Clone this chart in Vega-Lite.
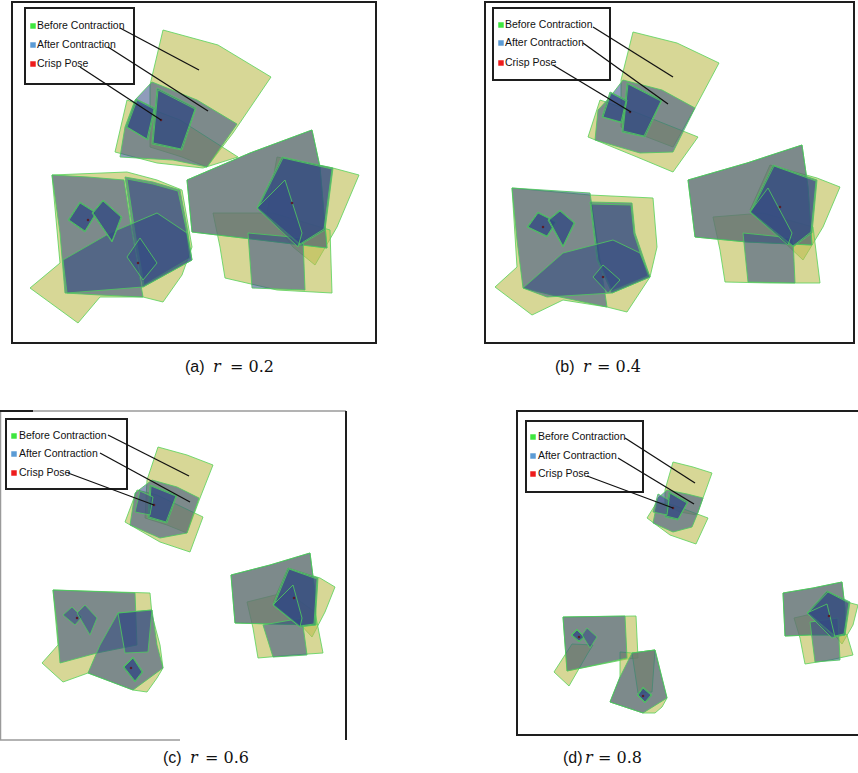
{
"$schema": "https://vega.github.io/schema/vega-lite/v6.json",
"width": 858, "height": 773, "padding": 0, "autosize": {"type": "none"},
"background": "white",
"config": {"view": {"stroke": null}},
"datasets": {
"before": [
{"poly":"aY1","i":0,"x":163,"y":30},{"poly":"aY1","i":1,"x":218,"y":45},{"poly":"aY1","i":2,"x":271,"y":77},{"poly":"aY1","i":3,"x":233,"y":133},{"poly":"aY1","i":4,"x":207,"y":167},{"poly":"aY1","i":5,"x":182,"y":157},{"poly":"aY1","i":6,"x":150,"y":147},{"poly":"aY1","i":7,"x":150,"y":85},
{"poly":"aY2","i":0,"x":127,"y":100},{"poly":"aY2","i":1,"x":180,"y":120},{"poly":"aY2","i":2,"x":238,"y":157},{"poly":"aY2","i":3,"x":203,"y":168},{"poly":"aY2","i":4,"x":157,"y":163},{"poly":"aY2","i":5,"x":115,"y":152},
{"poly":"aYL","i":0,"x":52,"y":175},{"poly":"aYL","i":1,"x":127,"y":172},{"poly":"aYL","i":2,"x":157,"y":180},{"poly":"aYL","i":3,"x":182,"y":190},{"poly":"aYL","i":4,"x":192,"y":247},{"poly":"aYL","i":5,"x":182,"y":275},{"poly":"aYL","i":6,"x":163,"y":302},{"poly":"aYL","i":7,"x":143,"y":297},{"poly":"aYL","i":8,"x":100,"y":297},{"poly":"aYL","i":9,"x":78,"y":323},{"poly":"aYL","i":10,"x":30,"y":288},{"poly":"aYL","i":11,"x":60,"y":263},
{"poly":"aYR1","i":0,"x":277,"y":157},{"poly":"aYR1","i":1,"x":333,"y":168},{"poly":"aYR1","i":2,"x":359,"y":175},{"poly":"aYR1","i":3,"x":337,"y":227},{"poly":"aYR1","i":4,"x":315,"y":265},{"poly":"aYR1","i":5,"x":293,"y":247},{"poly":"aYR1","i":6,"x":267,"y":213},
{"poly":"aYR2","i":0,"x":213,"y":213},{"poly":"aYR2","i":1,"x":273,"y":213},{"poly":"aYR2","i":2,"x":330,"y":230},{"poly":"aYR2","i":3,"x":332,"y":293},{"poly":"aYR2","i":4,"x":277,"y":290},{"poly":"aYR2","i":5,"x":225,"y":278},{"poly":"aYR2","i":6,"x":220,"y":247},
{"poly":"aYR3","i":0,"x":187,"y":180},{"poly":"aYR3","i":1,"x":250,"y":153},{"poly":"aYR3","i":2,"x":312,"y":130},{"poly":"aYR3","i":3,"x":320,"y":167},{"poly":"aYR3","i":4,"x":327,"y":248},{"poly":"aYR3","i":5,"x":260,"y":240},{"poly":"aYR3","i":6,"x":192,"y":232},
{"poly":"bY1","i":0,"x":633,"y":32},{"poly":"bY1","i":1,"x":677,"y":43},{"poly":"bY1","i":2,"x":719,"y":63},{"poly":"bY1","i":3,"x":695,"y":108},{"poly":"bY1","i":4,"x":673,"y":147},{"poly":"bY1","i":5,"x":647,"y":137},{"poly":"bY1","i":6,"x":621,"y":127},{"poly":"bY1","i":7,"x":621,"y":80},
{"poly":"bY2","i":0,"x":600,"y":100},{"poly":"bY2","i":1,"x":630,"y":110},{"poly":"bY2","i":2,"x":698,"y":137},{"poly":"bY2","i":3,"x":673,"y":172},{"poly":"bY2","i":4,"x":637,"y":157},{"poly":"bY2","i":5,"x":588,"y":137},
{"poly":"bYL","i":0,"x":512,"y":188},{"poly":"bYL","i":1,"x":590,"y":195},{"poly":"bYL","i":2,"x":632,"y":197},{"poly":"bYL","i":3,"x":653,"y":198},{"poly":"bYL","i":4,"x":657,"y":247},{"poly":"bYL","i":5,"x":650,"y":277},{"poly":"bYL","i":6,"x":627,"y":312},{"poly":"bYL","i":7,"x":607,"y":307},{"poly":"bYL","i":8,"x":563,"y":300},{"poly":"bYL","i":9,"x":532,"y":315},{"poly":"bYL","i":10,"x":495,"y":287},{"poly":"bYL","i":11,"x":517,"y":267},
{"poly":"bYR1","i":0,"x":770,"y":165},{"poly":"bYR1","i":1,"x":817,"y":178},{"poly":"bYR1","i":2,"x":840,"y":187},{"poly":"bYR1","i":3,"x":823,"y":227},{"poly":"bYR1","i":4,"x":803,"y":260},{"poly":"bYR1","i":5,"x":782,"y":240},{"poly":"bYR1","i":6,"x":750,"y":210},
{"poly":"bYR2","i":0,"x":713,"y":217},{"poly":"bYR2","i":1,"x":763,"y":213},{"poly":"bYR2","i":2,"x":813,"y":227},{"poly":"bYR2","i":3,"x":820,"y":283},{"poly":"bYR2","i":4,"x":770,"y":283},{"poly":"bYR2","i":5,"x":725,"y":282},{"poly":"bYR2","i":6,"x":720,"y":250},
{"poly":"bYR3","i":0,"x":688,"y":180},{"poly":"bYR3","i":1,"x":747,"y":163},{"poly":"bYR3","i":2,"x":802,"y":145},{"poly":"bYR3","i":3,"x":808,"y":187},{"poly":"bYR3","i":4,"x":812,"y":245},{"poly":"bYR3","i":5,"x":747,"y":242},{"poly":"bYR3","i":6,"x":695,"y":237},
{"poly":"cY1","i":0,"x":158,"y":447},{"poly":"cY1","i":1,"x":187,"y":455},{"poly":"cY1","i":2,"x":213,"y":465},{"poly":"cY1","i":3,"x":200,"y":498},{"poly":"cY1","i":4,"x":187,"y":533},{"poly":"cY1","i":5,"x":167,"y":525},{"poly":"cY1","i":6,"x":145,"y":518},{"poly":"cY1","i":7,"x":147,"y":480},
{"poly":"cY2","i":0,"x":137,"y":490},{"poly":"cY2","i":1,"x":157,"y":495},{"poly":"cY2","i":2,"x":203,"y":517},{"poly":"cY2","i":3,"x":190,"y":552},{"poly":"cY2","i":4,"x":160,"y":542},{"poly":"cY2","i":5,"x":125,"y":522},
{"poly":"cYL","i":0,"x":53,"y":590},{"poly":"cYL","i":1,"x":150,"y":593},{"poly":"cYL","i":2,"x":152,"y":615},{"poly":"cYL","i":3,"x":160,"y":645},{"poly":"cYL","i":4,"x":163,"y":668},{"poly":"cYL","i":5,"x":157,"y":678},{"poly":"cYL","i":6,"x":147,"y":692},{"poly":"cYL","i":7,"x":133,"y":690},{"poly":"cYL","i":8,"x":88,"y":673},{"poly":"cYL","i":9,"x":63,"y":682},{"poly":"cYL","i":10,"x":42,"y":663},{"poly":"cYL","i":11,"x":58,"y":645},
{"poly":"cYR1","i":0,"x":288,"y":568},{"poly":"cYR1","i":1,"x":320,"y":578},{"poly":"cYR1","i":2,"x":335,"y":587},{"poly":"cYR1","i":3,"x":325,"y":612},{"poly":"cYR1","i":4,"x":312,"y":637},{"poly":"cYR1","i":5,"x":298,"y":622},{"poly":"cYR1","i":6,"x":273,"y":602},
{"poly":"cYR2","i":0,"x":247,"y":602},{"poly":"cYR2","i":1,"x":287,"y":592},{"poly":"cYR2","i":2,"x":315,"y":612},{"poly":"cYR2","i":3,"x":323,"y":653},{"poly":"cYR2","i":4,"x":293,"y":655},{"poly":"cYR2","i":5,"x":258,"y":658},{"poly":"cYR2","i":6,"x":253,"y":628},
{"poly":"cYR3","i":0,"x":231,"y":575},{"poly":"cYR3","i":1,"x":270,"y":565},{"poly":"cYR3","i":2,"x":310,"y":553},{"poly":"cYR3","i":3,"x":315,"y":592},{"poly":"cYR3","i":4,"x":316,"y":625},{"poly":"cYR3","i":5,"x":273,"y":624},{"poly":"cYR3","i":6,"x":235,"y":623},
{"poly":"dY1","i":0,"x":673,"y":462},{"poly":"dY1","i":1,"x":693,"y":467},{"poly":"dY1","i":2,"x":712,"y":473},{"poly":"dY1","i":3,"x":703,"y":498},{"poly":"dY1","i":4,"x":697,"y":515},{"poly":"dY1","i":5,"x":680,"y":512},{"poly":"dY1","i":6,"x":665,"y":505},{"poly":"dY1","i":7,"x":665,"y":490},
{"poly":"dY2","i":0,"x":657,"y":502},{"poly":"dY2","i":1,"x":673,"y":505},{"poly":"dY2","i":2,"x":708,"y":518},{"poly":"dY2","i":3,"x":696,"y":544},{"poly":"dY2","i":4,"x":670,"y":535},{"poly":"dY2","i":5,"x":647,"y":518},
{"poly":"dYL1","i":0,"x":563,"y":617},{"poly":"dYL1","i":1,"x":636,"y":616},{"poly":"dYL1","i":2,"x":638,"y":658},{"poly":"dYL1","i":3,"x":627,"y":659},{"poly":"dYL1","i":4,"x":567,"y":671},
{"poly":"dYL2","i":0,"x":554,"y":672},{"poly":"dYL2","i":1,"x":572,"y":644},{"poly":"dYL2","i":2,"x":593,"y":645},{"poly":"dYL2","i":3,"x":588,"y":653},{"poly":"dYL2","i":4,"x":569,"y":686},
{"poly":"dYL3","i":0,"x":620,"y":652},{"poly":"dYL3","i":1,"x":632,"y":653},{"poly":"dYL3","i":2,"x":655,"y":650},{"poly":"dYL3","i":3,"x":667,"y":698},{"poly":"dYL3","i":4,"x":662,"y":707},{"poly":"dYL3","i":5,"x":655,"y":713},{"poly":"dYL3","i":6,"x":643,"y":713},{"poly":"dYL3","i":7,"x":610,"y":702},{"poly":"dYL3","i":8,"x":620,"y":677},
{"poly":"dYL4","i":0,"x":632,"y":653},{"poly":"dYL4","i":1,"x":655,"y":650},{"poly":"dYL4","i":2,"x":652,"y":692},{"poly":"dYL4","i":3,"x":638,"y":693},
{"poly":"dYR1","i":0,"x":827,"y":591},{"poly":"dYR1","i":1,"x":847,"y":602},{"poly":"dYR1","i":2,"x":858,"y":605},{"poly":"dYR1","i":3,"x":853,"y":625},{"poly":"dYR1","i":4,"x":842,"y":644},{"poly":"dYR1","i":5,"x":832,"y":632},{"poly":"dYR1","i":6,"x":810,"y":612},
{"poly":"dYR2","i":0,"x":794,"y":618},{"poly":"dYR2","i":1,"x":820,"y":612},{"poly":"dYR2","i":2,"x":847,"y":635},{"poly":"dYR2","i":3,"x":853,"y":655},{"poly":"dYR2","i":4,"x":830,"y":660},{"poly":"dYR2","i":5,"x":805,"y":664},{"poly":"dYR2","i":6,"x":800,"y":638},
{"poly":"dYR3","i":0,"x":783,"y":593},{"poly":"dYR3","i":1,"x":813,"y":588},{"poly":"dYR3","i":2,"x":842,"y":582},{"poly":"dYR3","i":3,"x":845,"y":608},{"poly":"dYR3","i":4,"x":845,"y":635},{"poly":"dYR3","i":5,"x":810,"y":635},{"poly":"dYR3","i":6,"x":785,"y":636}
],
"after": [
{"poly":"aG1","i":0,"x":152,"y":82},{"poly":"aG1","i":1,"x":197,"y":100},{"poly":"aG1","i":2,"x":237,"y":124},{"poly":"aG1","i":3,"x":207,"y":167},{"poly":"aG1","i":4,"x":173,"y":160},{"poly":"aG1","i":5,"x":120,"y":157},{"poly":"aG1","i":6,"x":125,"y":127},{"poly":"aG1","i":7,"x":135,"y":100},
{"poly":"aG2","i":0,"x":157,"y":88},{"poly":"aG2","i":1,"x":196,"y":108},{"poly":"aG2","i":2,"x":182,"y":150},{"poly":"aG2","i":3,"x":152,"y":144},
{"poly":"aG2b","i":0,"x":158,"y":90},{"poly":"aG2b","i":1,"x":195,"y":109},{"poly":"aG2b","i":2,"x":181,"y":149},{"poly":"aG2b","i":3,"x":153,"y":143},
{"poly":"aG3","i":0,"x":136,"y":99},{"poly":"aG3","i":1,"x":155,"y":108},{"poly":"aG3","i":2,"x":148,"y":140},{"poly":"aG3","i":3,"x":126,"y":127},
{"poly":"aG3b","i":0,"x":137,"y":100},{"poly":"aG3b","i":1,"x":154,"y":109},{"poly":"aG3b","i":2,"x":147,"y":139},{"poly":"aG3b","i":3,"x":127,"y":127},
{"poly":"aGL1","i":0,"x":52,"y":175},{"poly":"aGL1","i":1,"x":88,"y":177},{"poly":"aGL1","i":2,"x":124,"y":180},{"poly":"aGL1","i":3,"x":132,"y":233},{"poly":"aGL1","i":4,"x":143,"y":297},{"poly":"aGL1","i":5,"x":100,"y":295},{"poly":"aGL1","i":6,"x":65,"y":293},{"poly":"aGL1","i":7,"x":60,"y":233},
{"poly":"aGL2","i":0,"x":125,"y":177},{"poly":"aGL2","i":1,"x":153,"y":182},{"poly":"aGL2","i":2,"x":180,"y":190},{"poly":"aGL2","i":3,"x":187,"y":227},{"poly":"aGL2","i":4,"x":192,"y":260},{"poly":"aGL2","i":5,"x":143,"y":287},{"poly":"aGL2","i":6,"x":133,"y":233},
{"poly":"aGL2b","i":0,"x":127,"y":179},{"poly":"aGL2b","i":1,"x":153,"y":184},{"poly":"aGL2b","i":2,"x":178,"y":191},{"poly":"aGL2b","i":3,"x":186,"y":228},{"poly":"aGL2b","i":4,"x":190,"y":258},{"poly":"aGL2b","i":5,"x":144,"y":285},{"poly":"aGL2b","i":6,"x":135,"y":233},
{"poly":"aGL3","i":0,"x":63,"y":260},{"poly":"aGL3","i":1,"x":110,"y":233},{"poly":"aGL3","i":2,"x":157,"y":213},{"poly":"aGL3","i":3,"x":187,"y":233},{"poly":"aGL3","i":4,"x":192,"y":260},{"poly":"aGL3","i":5,"x":143,"y":287},{"poly":"aGL3","i":6,"x":67,"y":293},
{"poly":"aGL4","i":0,"x":68,"y":220},{"poly":"aGL4","i":1,"x":80,"y":202},{"poly":"aGL4","i":2,"x":97,"y":213},{"poly":"aGL4","i":3,"x":85,"y":232},
{"poly":"aGL4b","i":0,"x":69,"y":220},{"poly":"aGL4b","i":1,"x":80,"y":203},{"poly":"aGL4b","i":2,"x":96,"y":213},{"poly":"aGL4b","i":3,"x":85,"y":231},
{"poly":"aGL5","i":0,"x":92,"y":213},{"poly":"aGL5","i":1,"x":103,"y":200},{"poly":"aGL5","i":2,"x":122,"y":217},{"poly":"aGL5","i":3,"x":112,"y":242},
{"poly":"aGL5b","i":0,"x":93,"y":213},{"poly":"aGL5b","i":1,"x":103,"y":201},{"poly":"aGL5b","i":2,"x":121,"y":217},{"poly":"aGL5b","i":3,"x":112,"y":241},
{"poly":"aGL6","i":0,"x":127,"y":257},{"poly":"aGL6","i":1,"x":140,"y":238},{"poly":"aGL6","i":2,"x":157,"y":263},{"poly":"aGL6","i":3,"x":143,"y":280},
{"poly":"aGR1","i":0,"x":187,"y":180},{"poly":"aGR1","i":1,"x":250,"y":153},{"poly":"aGR1","i":2,"x":312,"y":130},{"poly":"aGR1","i":3,"x":320,"y":167},{"poly":"aGR1","i":4,"x":327,"y":248},{"poly":"aGR1","i":5,"x":260,"y":240},{"poly":"aGR1","i":6,"x":192,"y":232},
{"poly":"aGR2","i":0,"x":248,"y":233},{"poly":"aGR2","i":1,"x":303,"y":238},{"poly":"aGR2","i":2,"x":305,"y":290},{"poly":"aGR2","i":3,"x":252,"y":288},
{"poly":"aGR3","i":0,"x":282,"y":157},{"poly":"aGR3","i":1,"x":333,"y":168},{"poly":"aGR3","i":2,"x":325,"y":230},{"poly":"aGR3","i":3,"x":300,"y":245},{"poly":"aGR3","i":4,"x":257,"y":208},
{"poly":"aGR3b","i":0,"x":283,"y":158},{"poly":"aGR3b","i":1,"x":332,"y":169},{"poly":"aGR3b","i":2,"x":324,"y":229},{"poly":"aGR3b","i":3,"x":300,"y":244},{"poly":"aGR3b","i":4,"x":258,"y":208},
{"poly":"aGR4","i":0,"x":257,"y":208},{"poly":"aGR4","i":1,"x":285,"y":180},{"poly":"aGR4","i":2,"x":302,"y":233},{"poly":"aGR4","i":3,"x":298,"y":247},
{"poly":"bG1","i":0,"x":623,"y":80},{"poly":"bG1","i":1,"x":662,"y":90},{"poly":"bG1","i":2,"x":695,"y":108},{"poly":"bG1","i":3,"x":673,"y":152},{"poly":"bG1","i":4,"x":640,"y":153},{"poly":"bG1","i":5,"x":595,"y":140},{"poly":"bG1","i":6,"x":598,"y":110},{"poly":"bG1","i":7,"x":610,"y":97},
{"poly":"bG2","i":0,"x":627,"y":83},{"poly":"bG2","i":1,"x":662,"y":100},{"poly":"bG2","i":2,"x":645,"y":137},{"poly":"bG2","i":3,"x":622,"y":132},
{"poly":"bG2b","i":0,"x":628,"y":84},{"poly":"bG2b","i":1,"x":661,"y":101},{"poly":"bG2b","i":2,"x":644,"y":136},{"poly":"bG2b","i":3,"x":623,"y":131},
{"poly":"bG3","i":0,"x":610,"y":92},{"poly":"bG3","i":1,"x":627,"y":100},{"poly":"bG3","i":2,"x":622,"y":123},{"poly":"bG3","i":3,"x":602,"y":117},
{"poly":"bG3b","i":0,"x":611,"y":93},{"poly":"bG3b","i":1,"x":626,"y":101},{"poly":"bG3b","i":2,"x":621,"y":122},{"poly":"bG3b","i":3,"x":603,"y":117},
{"poly":"bGL1","i":0,"x":512,"y":188},{"poly":"bGL1","i":1,"x":590,"y":193},{"poly":"bGL1","i":2,"x":597,"y":240},{"poly":"bGL1","i":3,"x":607,"y":307},{"poly":"bGL1","i":4,"x":560,"y":297},{"poly":"bGL1","i":5,"x":523,"y":288},{"poly":"bGL1","i":6,"x":517,"y":240},
{"poly":"bGL2","i":0,"x":590,"y":202},{"poly":"bGL2","i":1,"x":632,"y":203},{"poly":"bGL2","i":2,"x":635,"y":233},{"poly":"bGL2","i":3,"x":650,"y":277},{"poly":"bGL2","i":4,"x":612,"y":293},{"poly":"bGL2","i":5,"x":597,"y":260},
{"poly":"bGL2b","i":0,"x":591,"y":204},{"poly":"bGL2b","i":1,"x":631,"y":205},{"poly":"bGL2b","i":2,"x":634,"y":234},{"poly":"bGL2b","i":3,"x":648,"y":276},{"poly":"bGL2b","i":4,"x":612,"y":291},{"poly":"bGL2b","i":5,"x":598,"y":260},
{"poly":"bGL3","i":0,"x":523,"y":288},{"poly":"bGL3","i":1,"x":563,"y":253},{"poly":"bGL3","i":2,"x":613,"y":240},{"poly":"bGL3","i":3,"x":640,"y":253},{"poly":"bGL3","i":4,"x":650,"y":277},{"poly":"bGL3","i":5,"x":612,"y":293},{"poly":"bGL3","i":6,"x":547,"y":297},
{"poly":"bGL4","i":0,"x":527,"y":227},{"poly":"bGL4","i":1,"x":538,"y":212},{"poly":"bGL4","i":2,"x":557,"y":222},{"poly":"bGL4","i":3,"x":547,"y":237},
{"poly":"bGL4b","i":0,"x":528,"y":227},{"poly":"bGL4b","i":1,"x":538,"y":213},{"poly":"bGL4b","i":2,"x":556,"y":222},{"poly":"bGL4b","i":3,"x":547,"y":236},
{"poly":"bGL5","i":0,"x":548,"y":220},{"poly":"bGL5","i":1,"x":560,"y":210},{"poly":"bGL5","i":2,"x":575,"y":223},{"poly":"bGL5","i":3,"x":563,"y":247},
{"poly":"bGL5b","i":0,"x":549,"y":220},{"poly":"bGL5b","i":1,"x":560,"y":211},{"poly":"bGL5b","i":2,"x":574,"y":223},{"poly":"bGL5b","i":3,"x":563,"y":246},
{"poly":"bGL6","i":0,"x":593,"y":277},{"poly":"bGL6","i":1,"x":603,"y":265},{"poly":"bGL6","i":2,"x":620,"y":280},{"poly":"bGL6","i":3,"x":608,"y":293},
{"poly":"bGR1","i":0,"x":688,"y":180},{"poly":"bGR1","i":1,"x":747,"y":163},{"poly":"bGR1","i":2,"x":802,"y":145},{"poly":"bGR1","i":3,"x":808,"y":187},{"poly":"bGR1","i":4,"x":812,"y":245},{"poly":"bGR1","i":5,"x":747,"y":242},{"poly":"bGR1","i":6,"x":695,"y":237},
{"poly":"bGR2","i":0,"x":743,"y":233},{"poly":"bGR2","i":1,"x":793,"y":238},{"poly":"bGR2","i":2,"x":795,"y":283},{"poly":"bGR2","i":3,"x":748,"y":282},
{"poly":"bGR3","i":0,"x":773,"y":165},{"poly":"bGR3","i":1,"x":817,"y":180},{"poly":"bGR3","i":2,"x":812,"y":233},{"poly":"bGR3","i":3,"x":793,"y":247},{"poly":"bGR3","i":4,"x":750,"y":212},
{"poly":"bGR3b","i":0,"x":774,"y":166},{"poly":"bGR3b","i":1,"x":816,"y":181},{"poly":"bGR3b","i":2,"x":811,"y":232},{"poly":"bGR3b","i":3,"x":793,"y":246},{"poly":"bGR3b","i":4,"x":751,"y":212},
{"poly":"bGR4","i":0,"x":750,"y":212},{"poly":"bGR4","i":1,"x":768,"y":188},{"poly":"bGR4","i":2,"x":792,"y":233},{"poly":"bGR4","i":3,"x":788,"y":245},
{"poly":"cG1","i":0,"x":152,"y":480},{"poly":"cG1","i":1,"x":177,"y":487},{"poly":"cG1","i":2,"x":199,"y":498},{"poly":"cG1","i":3,"x":187,"y":533},{"poly":"cG1","i":4,"x":160,"y":538},{"poly":"cG1","i":5,"x":130,"y":525},{"poly":"cG1","i":6,"x":135,"y":493},
{"poly":"cG2","i":0,"x":150,"y":485},{"poly":"cG2","i":1,"x":177,"y":495},{"poly":"cG2","i":2,"x":167,"y":523},{"poly":"cG2","i":3,"x":148,"y":518},
{"poly":"cG2b","i":0,"x":151,"y":486},{"poly":"cG2b","i":1,"x":176,"y":496},{"poly":"cG2b","i":2,"x":166,"y":522},{"poly":"cG2b","i":3,"x":149,"y":517},
{"poly":"cG3","i":0,"x":140,"y":491},{"poly":"cG3","i":1,"x":153,"y":497},{"poly":"cG3","i":2,"x":150,"y":515},{"poly":"cG3","i":3,"x":135,"y":512},
{"poly":"cGL1","i":0,"x":53,"y":590},{"poly":"cGL1","i":1,"x":135,"y":593},{"poly":"cGL1","i":2,"x":137,"y":645},{"poly":"cGL1","i":3,"x":97,"y":653},{"poly":"cGL1","i":4,"x":60,"y":663},{"poly":"cGL1","i":5,"x":57,"y":625},
{"poly":"cGL2","i":0,"x":118,"y":613},{"poly":"cGL2","i":1,"x":152,"y":610},{"poly":"cGL2","i":2,"x":157,"y":645},{"poly":"cGL2","i":3,"x":163,"y":668},{"poly":"cGL2","i":4,"x":133,"y":690},{"poly":"cGL2","i":5,"x":88,"y":673},{"poly":"cGL2","i":6,"x":100,"y":645},
{"poly":"cGL3","i":0,"x":118,"y":613},{"poly":"cGL3","i":1,"x":152,"y":610},{"poly":"cGL3","i":2,"x":148,"y":652},{"poly":"cGL3","i":3,"x":125,"y":653},
{"poly":"cGL4","i":0,"x":63,"y":615},{"poly":"cGL4","i":1,"x":72,"y":607},{"poly":"cGL4","i":2,"x":82,"y":617},{"poly":"cGL4","i":3,"x":75,"y":625},
{"poly":"cGL5","i":0,"x":77,"y":613},{"poly":"cGL5","i":1,"x":85,"y":605},{"poly":"cGL5","i":2,"x":97,"y":618},{"poly":"cGL5","i":3,"x":90,"y":635},
{"poly":"cGL6","i":0,"x":123,"y":667},{"poly":"cGL6","i":1,"x":133,"y":657},{"poly":"cGL6","i":2,"x":143,"y":672},{"poly":"cGL6","i":3,"x":135,"y":682},
{"poly":"cGL6b","i":0,"x":124,"y":667},{"poly":"cGL6b","i":1,"x":133,"y":658},{"poly":"cGL6b","i":2,"x":142,"y":672},{"poly":"cGL6b","i":3,"x":135,"y":681},
{"poly":"cGR1","i":0,"x":231,"y":575},{"poly":"cGR1","i":1,"x":270,"y":565},{"poly":"cGR1","i":2,"x":310,"y":553},{"poly":"cGR1","i":3,"x":315,"y":592},{"poly":"cGR1","i":4,"x":316,"y":625},{"poly":"cGR1","i":5,"x":273,"y":624},{"poly":"cGR1","i":6,"x":235,"y":623},
{"poly":"cGR2","i":0,"x":263,"y":625},{"poly":"cGR2","i":1,"x":302,"y":618},{"poly":"cGR2","i":2,"x":307,"y":655},{"poly":"cGR2","i":3,"x":273,"y":657},
{"poly":"cGR3","i":0,"x":288,"y":568},{"poly":"cGR3","i":1,"x":318,"y":578},{"poly":"cGR3","i":2,"x":315,"y":625},{"poly":"cGR3","i":3,"x":300,"y":627},{"poly":"cGR3","i":4,"x":273,"y":605},
{"poly":"cGR3b","i":0,"x":289,"y":569},{"poly":"cGR3b","i":1,"x":317,"y":579},{"poly":"cGR3b","i":2,"x":314,"y":624},{"poly":"cGR3b","i":3,"x":300,"y":626},{"poly":"cGR3b","i":4,"x":274,"y":605},
{"poly":"cGR4","i":0,"x":273,"y":605},{"poly":"cGR4","i":1,"x":293,"y":585},{"poly":"cGR4","i":2,"x":302,"y":618},{"poly":"cGR4","i":3,"x":300,"y":627},
{"poly":"dG1","i":0,"x":667,"y":490},{"poly":"dG1","i":1,"x":687,"y":494},{"poly":"dG1","i":2,"x":703,"y":498},{"poly":"dG1","i":3,"x":697,"y":515},{"poly":"dG1","i":4,"x":692,"y":527},{"poly":"dG1","i":5,"x":673,"y":532},{"poly":"dG1","i":6,"x":653,"y":523},{"poly":"dG1","i":7,"x":658,"y":498},
{"poly":"dG2","i":0,"x":669,"y":492},{"poly":"dG2","i":1,"x":688,"y":502},{"poly":"dG2","i":2,"x":678,"y":520},{"poly":"dG2","i":3,"x":665,"y":517},
{"poly":"dG2b","i":0,"x":670,"y":493},{"poly":"dG2b","i":1,"x":687,"y":503},{"poly":"dG2b","i":2,"x":678,"y":519},{"poly":"dG2b","i":3,"x":666,"y":516},
{"poly":"dG3","i":0,"x":658,"y":494},{"poly":"dG3","i":1,"x":669,"y":500},{"poly":"dG3","i":2,"x":667,"y":515},{"poly":"dG3","i":3,"x":653,"y":512},
{"poly":"dGL1","i":0,"x":563,"y":617},{"poly":"dGL1","i":1,"x":625,"y":616},{"poly":"dGL1","i":2,"x":627,"y":658},{"poly":"dGL1","i":3,"x":567,"y":671},
{"poly":"dGL2","i":0,"x":571,"y":635},{"poly":"dGL2","i":1,"x":577,"y":629},{"poly":"dGL2","i":2,"x":585,"y":637},{"poly":"dGL2","i":3,"x":579,"y":642},
{"poly":"dGL2b","i":0,"x":572,"y":635},{"poly":"dGL2b","i":1,"x":577,"y":630},{"poly":"dGL2b","i":2,"x":584,"y":637},{"poly":"dGL2b","i":3,"x":579,"y":641},
{"poly":"dGL3","i":0,"x":582,"y":635},{"poly":"dGL3","i":1,"x":587,"y":628},{"poly":"dGL3","i":2,"x":597,"y":637},{"poly":"dGL3","i":3,"x":590,"y":648},
{"poly":"dGL4","i":0,"x":620,"y":677},{"poly":"dGL4","i":1,"x":632,"y":653},{"poly":"dGL4","i":2,"x":655,"y":650},{"poly":"dGL4","i":3,"x":667,"y":698},{"poly":"dGL4","i":4,"x":643,"y":713},{"poly":"dGL4","i":5,"x":610,"y":702},
{"poly":"dGL6","i":0,"x":637,"y":695},{"poly":"dGL6","i":1,"x":643,"y":687},{"poly":"dGL6","i":2,"x":652,"y":695},{"poly":"dGL6","i":3,"x":645,"y":703},
{"poly":"dGL6b","i":0,"x":638,"y":695},{"poly":"dGL6b","i":1,"x":643,"y":688},{"poly":"dGL6b","i":2,"x":651,"y":695},{"poly":"dGL6b","i":3,"x":645,"y":702},
{"poly":"dGR1","i":0,"x":783,"y":593},{"poly":"dGR1","i":1,"x":813,"y":588},{"poly":"dGR1","i":2,"x":842,"y":582},{"poly":"dGR1","i":3,"x":845,"y":608},{"poly":"dGR1","i":4,"x":845,"y":635},{"poly":"dGR1","i":5,"x":810,"y":635},{"poly":"dGR1","i":6,"x":785,"y":636},
{"poly":"dGR2","i":0,"x":810,"y":622},{"poly":"dGR2","i":1,"x":838,"y":618},{"poly":"dGR2","i":2,"x":840,"y":660},{"poly":"dGR2","i":3,"x":815,"y":662},
{"poly":"dGR3","i":0,"x":827,"y":591},{"poly":"dGR3","i":1,"x":850,"y":602},{"poly":"dGR3","i":2,"x":845,"y":635},{"poly":"dGR3","i":3,"x":835,"y":637},{"poly":"dGR3","i":4,"x":807,"y":613},
{"poly":"dGR3b","i":0,"x":828,"y":592},{"poly":"dGR3b","i":1,"x":849,"y":603},{"poly":"dGR3b","i":2,"x":844,"y":634},{"poly":"dGR3b","i":3,"x":835,"y":636},{"poly":"dGR3b","i":4,"x":808,"y":613},
{"poly":"dGR4","i":0,"x":807,"y":613},{"poly":"dGR4","i":1,"x":827,"y":604},{"poly":"dGR4","i":2,"x":835,"y":637},{"poly":"dGR4","i":3,"x":832,"y":638}
],
"crisp": [
{"x":161,"y":120},{"x":292,"y":203},{"x":138,"y":263},{"x":88,"y":220},
{"x":630,"y":112},{"x":780,"y":207},{"x":543,"y":227},{"x":603,"y":277},
{"x":154,"y":505},{"x":294,"y":598},{"x":77,"y":618},{"x":131,"y":668},
{"x":673,"y":508},{"x":829,"y":616},{"x":579,"y":637},{"x":643,"y":696}
],
"frames": [
{"x":12,"y":2,"x2":376,"y2":343},{"x":485,"y":2,"x2":854,"y2":343},{"x":517,"y":411,"x2":880,"y2":735}
],
"edgesDark": [
{"x":346,"y":411,"x2":346,"y2":740},{"x":0,"y":411,"x2":33,"y2":411}
],
"edgesLight": [
{"x":0,"y":411,"x2":346,"y2":411},{"x":0.5,"y":411,"x2":0.5,"y2":740},{"x":0,"y":740,"x2":180,"y2":740}
],
"legendBoxes": [
{"x":25,"y":8,"x2":134,"y2":84},{"x":493,"y":8,"x2":610,"y2":80},{"x":6,"y":419,"x2":127,"y2":489},{"x":526,"y":421,"x2":643,"y2":492}
],
"legendItems": [
{"entry":"Before Contraction","sx":33,"tx":37,"y":26},{"entry":"After Contraction","sx":33,"tx":37,"y":45},{"entry":"Crisp Pose","sx":33,"tx":37,"y":64},
{"entry":"Before Contraction","sx":501,"tx":505,"y":25},{"entry":"After Contraction","sx":501,"tx":505,"y":43},{"entry":"Crisp Pose","sx":501,"tx":505,"y":63},
{"entry":"Before Contraction","sx":14,"tx":19,"y":436},{"entry":"After Contraction","sx":14,"tx":19,"y":454},{"entry":"Crisp Pose","sx":14,"tx":19,"y":473},
{"entry":"Before Contraction","sx":533,"tx":538,"y":437},{"entry":"After Contraction","sx":533,"tx":538,"y":456},{"entry":"Crisp Pose","sx":533,"tx":538,"y":474}
],
"callouts": [
{"x":120,"y":28,"x2":199,"y2":70},{"x":108,"y":47,"x2":208,"y2":111},{"x":80,"y":67,"x2":161,"y2":120},
{"x":593,"y":27,"x2":673,"y2":77},{"x":583,"y":43,"x2":668,"y2":104},{"x":553,"y":65,"x2":631,"y2":112},
{"x":108,"y":435,"x2":189,"y2":476},{"x":100,"y":453,"x2":190,"y2":502},{"x":68,"y":473,"x2":154,"y2":505},
{"x":625,"y":438,"x2":695,"y2":483},{"x":618,"y":458,"x2":694,"y2":504},{"x":587,"y":476,"x2":673,"y2":508}
],
"captions": [
{"label":"(a)","value":"= 0.2","lx":185,"rx":213,"vx":230,"y":367},
{"label":"(b)","value":"= 0.4","lx":555,"rx":583,"vx":597,"y":367},
{"label":"(c)","value":"= 0.6","lx":163,"rx":190,"vx":205,"y":758},
{"label":"(d)","value":"= 0.8","lx":563,"rx":585,"vx":598,"y":758}
]
},
"layer": [
{"data":{"name":"before"},
 "mark":{"type":"line","interpolate":"linear-closed","fill":"#bcbc50","fillOpacity":0.6,"stroke":"#5fd35f","strokeWidth":1,"strokeOpacity":0.85},
 "encoding":{
  "x":{"field":"x","type":"quantitative","scale":{"domain":[0,858],"nice":false,"zero":false},"axis":null},
  "y":{"field":"y","type":"quantitative","scale":{"domain":[0,773],"reverse":true,"nice":false,"zero":false},"axis":null},
  "detail":{"field":"poly"},"order":{"field":"i","type":"quantitative"}}},
{"data":{"name":"after"},
 "mark":{"type":"line","interpolate":"linear-closed","fill":"#334b84","fillOpacity":0.55,"stroke":"#4fc85f","strokeWidth":1,"strokeOpacity":0.85},
 "encoding":{
  "x":{"field":"x","type":"quantitative"},
  "y":{"field":"y","type":"quantitative"},
  "detail":{"field":"poly"},"order":{"field":"i","type":"quantitative"}}},
{"data":{"name":"crisp"},
 "mark":{"type":"point","shape":"square","filled":true,"size":5,"color":"#5a1f2a","opacity":1},
 "encoding":{"x":{"field":"x","type":"quantitative"},"y":{"field":"y","type":"quantitative"}}},
{"data":{"name":"frames"},
 "mark":{"type":"rect","fill":null,"fillOpacity":0,"stroke":"#1e1e1e","strokeWidth":2},
 "encoding":{"x":{"field":"x","type":"quantitative"},"x2":{"field":"x2"},"y":{"field":"y","type":"quantitative"},"y2":{"field":"y2"}}},
{"data":{"name":"edgesLight"},
 "mark":{"type":"rule","stroke":"#9a9a9a","strokeWidth":1.5},
 "encoding":{"x":{"field":"x","type":"quantitative"},"x2":{"field":"x2"},"y":{"field":"y","type":"quantitative"},"y2":{"field":"y2"}}},
{"data":{"name":"edgesDark"},
 "mark":{"type":"rule","stroke":"#1e1e1e","strokeWidth":2},
 "encoding":{"x":{"field":"x","type":"quantitative"},"x2":{"field":"x2"},"y":{"field":"y","type":"quantitative"},"y2":{"field":"y2"}}},
{"data":{"name":"legendBoxes"},
 "mark":{"type":"rect","fill":"white","stroke":"#1e1e1e","strokeWidth":2},
 "encoding":{"x":{"field":"x","type":"quantitative"},"x2":{"field":"x2"},"y":{"field":"y","type":"quantitative"},"y2":{"field":"y2"}}},
{"data":{"name":"callouts"},
 "mark":{"type":"rule","stroke":"#111111","strokeWidth":1.3},
 "encoding":{"x":{"field":"x","type":"quantitative"},"x2":{"field":"x2"},"y":{"field":"y","type":"quantitative"},"y2":{"field":"y2"}}},
{"data":{"name":"legendItems"},
 "mark":{"type":"point","shape":"square","filled":true,"size":30,"opacity":1},
 "encoding":{"x":{"field":"sx","type":"quantitative"},"y":{"field":"y","type":"quantitative"},
  "color":{"field":"entry","type":"nominal","scale":{"domain":["Before Contraction","After Contraction","Crisp Pose"],"range":["#3ee63e","#5b9bd5","#ee1c1c"]},"legend":null}}},
{"data":{"name":"legendItems"},
 "mark":{"type":"text","align":"left","baseline":"middle","font":"Liberation Sans","fontSize":10.5,"color":"#111111"},
 "encoding":{"x":{"field":"tx","type":"quantitative"},"y":{"field":"y","type":"quantitative"},"text":{"field":"entry"}}},
{"data":{"name":"captions"},
 "mark":{"type":"text","align":"left","baseline":"middle","font":"Liberation Sans","fontSize":16,"color":"#111111"},
 "encoding":{"x":{"field":"lx","type":"quantitative"},"y":{"field":"y","type":"quantitative"},"text":{"field":"label"}}},
{"data":{"name":"captions"},
 "mark":{"type":"text","align":"left","baseline":"middle","font":"DejaVu Serif","fontStyle":"italic","fontSize":16,"color":"#111111","text":"r"},
 "encoding":{"x":{"field":"rx","type":"quantitative"},"y":{"field":"y","type":"quantitative"}}},
{"data":{"name":"captions"},
 "mark":{"type":"text","align":"left","baseline":"middle","font":"DejaVu Serif","fontSize":16,"color":"#111111"},
 "encoding":{"x":{"field":"vx","type":"quantitative"},"y":{"field":"y","type":"quantitative"},"text":{"field":"value"}}}
]
}
